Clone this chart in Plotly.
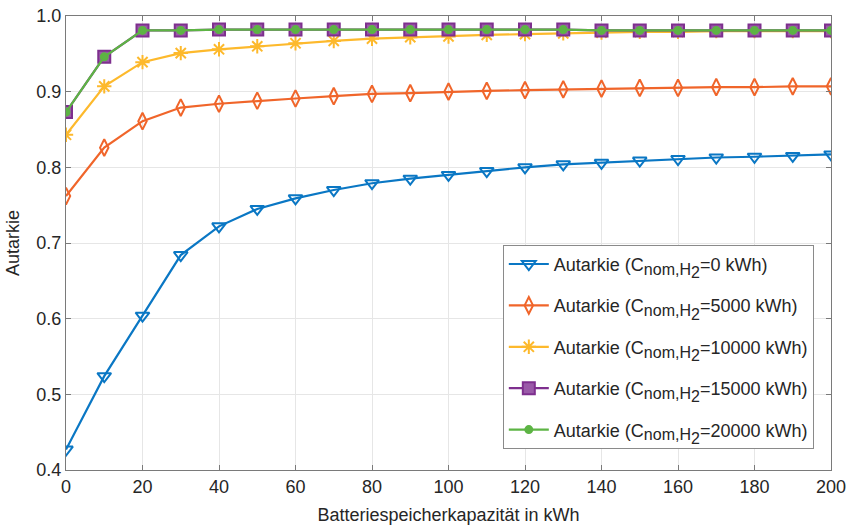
import plotly.graph_objects as go

x_kwh = [0, 10, 20, 30, 40, 50, 60, 70, 80, 90, 100, 110, 120, 130, 140, 150, 160, 170, 180, 190, 200]

aut_0 = [0.427, 0.524, 0.604, 0.684, 0.722, 0.745, 0.759, 0.770, 0.779, 0.785, 0.790,
         0.795, 0.800, 0.804, 0.806, 0.809, 0.811, 0.813, 0.814, 0.815, 0.817]
aut_5000 = [0.762, 0.826, 0.861, 0.879, 0.884, 0.888, 0.891, 0.894, 0.897, 0.898, 0.900,
            0.901, 0.902, 0.903, 0.904, 0.905, 0.905, 0.906, 0.906, 0.907, 0.907]
aut_10000 = [0.843, 0.907, 0.939, 0.951, 0.956, 0.960, 0.964, 0.967, 0.970, 0.972, 0.973,
             0.975, 0.976, 0.977, 0.978, 0.979, 0.979, 0.980, 0.980, 0.980, 0.980]
aut_15000 = [0.873, 0.946, 0.981, 0.981, 0.982, 0.982, 0.982, 0.982, 0.982, 0.982, 0.982,
             0.982, 0.982, 0.982, 0.981, 0.981, 0.981, 0.981, 0.981, 0.981, 0.981]
aut_20000 = [0.873, 0.946, 0.981, 0.981, 0.982, 0.982, 0.982, 0.982, 0.982, 0.982, 0.982,
             0.982, 0.982, 0.982, 0.981, 0.981, 0.981, 0.981, 0.981, 0.981, 0.981]

x_ticks = [0, 20, 40, 60, 80, 100, 120, 140, 160, 180, 200]
y_ticks = [0.4, 0.5, 0.6, 0.7, 0.8, 0.9, 1.0]
y_ticktext = ["0.4", "0.5", "0.6", "0.7", "0.8", "0.9", "1.0"]

labels = ["0", "5000", "10000", "15000", "20000"]
series = [aut_0, aut_5000, aut_10000, aut_15000, aut_20000]
colors = ["#0A77C4", "#F0652A", "#FDB92C", "#7E2F8E", "#5DB444"]
symbols = ["triangle-down-open", "diamond-tall-open", "asterisk-open", "square", "circle"]
sizes = [12, 12, 12, 12, 7]
fills = ["#0A77C4", "#F0652A", "#FDB92C", "#9A5AA8", "#5DB444"]

fig = go.Figure()
for i, (lab, ys, c, s, sz, fc) in enumerate(zip(labels, series, colors, symbols, sizes, fills)):
    name = ("Autarkie (C<sub><span style='font-size:16px'>nom,H"
            "<sub><span style='font-size:16px'>2</span></sub></span></sub>=" + lab + " kWh)")
    fig.add_trace(go.Scatter(
        x=x_kwh, y=ys, mode="lines+markers",
        name=name, legendgroup="g%d" % i,
        line=dict(color=c, width=2.2),
        marker=dict(symbol=s, size=sz, color=fc,
                    line=dict(color=c, width=2)),
    ))

axis_common = dict(
    showline=True, linecolor="#7a7a7a", linewidth=1, mirror="ticks",
    ticks="inside", ticklen=5, tickcolor="#7a7a7a",
    showgrid=True, gridcolor="#e6e6e6", gridwidth=1, zeroline=False,
    ticklabeloverflow="allow", automargin=False,
    tickfont=dict(family="Liberation Sans, Arial", size=18, color="#262626"),
)

fig.update_layout(
    width=848, height=530,
    margin=dict(l=66, r=17, t=16, b=60),
    paper_bgcolor="white", plot_bgcolor="white",
    font=dict(family="Liberation Sans, Arial", size=18, color="#262626"),
    xaxis=dict(range=[0, 200], tickmode="array", tickvals=x_ticks,
               title=dict(text="Batteriespeicherkapazität in kWh", standoff=12,
                          font=dict(size=18, color="#262626")),
               **axis_common),
    yaxis=dict(range=[0.4, 1.0], tickmode="array", tickvals=y_ticks, ticktext=y_ticktext,
               title=dict(text="Autarkie", standoff=12,
                          font=dict(size=18, color="#262626")),
               **axis_common),
    legend=dict(x=0.571, y=0.496, xanchor="left", yanchor="top",
                bgcolor="white", bordercolor="#8a8a8a", borderwidth=1,
                font=dict(size=18, color="#262626"), itemwidth=40,
                tracegroupgap=15),
    showlegend=True,
)

fig.write_html("out.html")
